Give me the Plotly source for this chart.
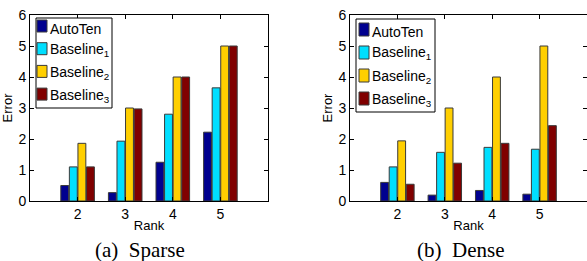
import plotly.graph_objects as go

ranks = ["2", "3", "4", "5"]
rank_pos = [2, 3, 4, 5]
series_names = ["AutoTen", "Baseline<sub>1</sub>", "Baseline<sub>2</sub>", "Baseline<sub>3</sub>"]
colors = ["#00008F", "#00DFFF", "#FFCF00", "#800000"]

sparse_autoten = [0.50, 0.27, 1.25, 2.22]
sparse_base1 = [1.10, 1.93, 2.80, 3.65]
sparse_base2 = [1.86, 3.00, 4.00, 5.00]
sparse_base3 = [1.10, 2.97, 4.00, 5.00]

dense_autoten = [0.60, 0.19, 0.34, 0.22]
dense_base1 = [1.10, 1.57, 1.73, 1.67]
dense_base2 = [1.94, 3.00, 4.00, 5.00]
dense_base3 = [0.54, 1.22, 1.86, 2.43]

y_ticks = [0, 1, 2, 3, 4, 5, 6]
captions = ["(a)\u00a0 Sparse", "(b)\u00a0 Dense"]

W, H = 587, 261


def px(x):
    return x / W


def py(y):
    return 1 - y / H


fig = go.Figure()

# (xaxis, yaxis, values, legend box x0, x1, y0, y1, symbol x0, first top, step, symbol h)
panels = [
    ("x", "y", [sparse_autoten, sparse_base1, sparse_base2, sparse_base3],
     (36, 112, 18, 108), 37, 20, 22.7, 12),
    ("x2", "y2", [dense_autoten, dense_base1, dense_base2, dense_base3],
     (356, 435, 19, 112), 359, 23, 23.0, 13),
]
font = "Liberation Sans, Arial, sans-serif"

for xa, ya, vals, box, sx0, top0, step, sh in panels:
    for name, col, v in zip(series_names, colors, vals):
        fig.add_trace(go.Bar(
            x=rank_pos, y=v, name=name, xaxis=xa, yaxis=ya, showlegend=False,
            marker=dict(color=col, line=dict(color="#3a3a3a", width=1)),
        ))
    bx0, bx1, by0, by1 = box
    fig.add_shape(type="rect", xref="paper", yref="paper",
                  x0=px(bx0), x1=px(bx1), y0=py(by1), y1=py(by0),
                  line=dict(color="black", width=1), fillcolor="white", layer="above")
    for i, (name, col) in enumerate(zip(series_names, colors)):
        top = top0 + i * step
        fig.add_shape(type="rect", xref="paper", yref="paper",
                      x0=px(sx0), x1=px(sx0 + 10), y0=py(top + sh), y1=py(top),
                      line=dict(color="#3a3a3a", width=1), fillcolor=col, layer="above")
        fig.add_annotation(text=name, xref="paper", yref="paper",
                           x=px(sx0 + 11), y=py(top + (8.5 if i == 0 else 7.5)),
                           xanchor="left", yanchor="middle", showarrow=False,
                           font=dict(family=font, size=14, color="black"))

ydom = [1 - 201 / H, 1 - 15 / H]
axis_common = dict(
    showline=True, linecolor="black", linewidth=1, mirror="allticks",
    ticks="inside", ticklen=4, tickcolor="black", showgrid=False, zeroline=False,
    automargin=False,
    tickfont=dict(family=font, size=14, color="black"),
)
xcommon = dict(axis_common, range=[1, 6], tickvals=rank_pos, ticktext=ranks,
               title=dict(text="Rank", font=dict(family=font, size=13, color="black"), standoff=0))
ycommon = dict(axis_common, range=[0, 6], tickvals=y_ticks,
               title=dict(text="Error", font=dict(family=font, size=13, color="black"), standoff=2))

fig.update_layout(
    width=W, height=H,
    margin=dict(l=0, r=0, t=0, b=0),
    paper_bgcolor="white", plot_bgcolor="white",
    barmode="group", bargap=0.28, bargroupgap=0.08,
    xaxis=dict(xcommon, domain=[30 / W, 268 / W], anchor="y"),
    yaxis=dict(ycommon, domain=ydom, anchor="x"),
    xaxis2=dict(xcommon, domain=[350 / W, 1.0], anchor="y2"),
    yaxis2=dict(ycommon, domain=ydom, anchor="x2"),
    showlegend=False,
)

for cap, cx in zip(captions, [140, 460]):
    fig.add_annotation(text=cap, x=px(cx), y=py(250), xref="paper", yref="paper",
                       showarrow=False, xanchor="center", yanchor="middle",
                       font=dict(family="Liberation Serif, Times New Roman, serif", size=21, color="black"))

fig.write_html("out.html", config={"displayModeBar": False},
               post_script="document.body.style.margin='0px';document.body.style.overflow='hidden';")
